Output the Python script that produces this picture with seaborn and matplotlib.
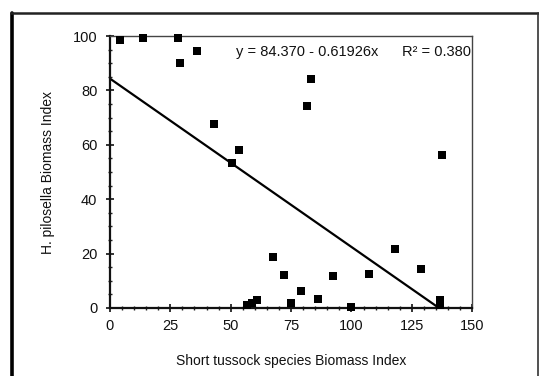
import matplotlib
matplotlib.use("Agg")
import matplotlib.pyplot as plt
from matplotlib.lines import Line2D
from matplotlib.ticker import MultipleLocator
import numpy as np
import pandas as pd
import seaborn as sns

# Biomass indices per plot
short_tussock = [4.2, 13.8, 28.0, 29.0, 35.9, 42.9, 50.5, 53.5, 56.9, 59.0, 60.8,
                 67.6, 72.0, 75.1, 79.1, 81.4, 83.3, 86.0, 92.5, 100.0, 107.3,
                 118.2, 128.9, 136.5, 136.5, 137.7]
pilosella = [98.5, 99.4, 99.4, 90.1, 94.5, 67.5, 53.4, 58.0, 1.0, 2.0, 2.8,
             18.7, 12.0, 2.0, 6.4, 74.3, 84.1, 3.4, 11.8, 0.5, 12.5,
             21.7, 14.3, 1.2, 3.0, 56.3]

# Fitted regression
intercept = 84.370
slope = -0.61926
r_squared = 0.380

x_ticks = [0, 25, 50, 75, 100, 125, 150]
y_ticks = [0, 20, 40, 60, 80, 100]

sns.set_style("ticks")
plt.rcParams["font.family"] = ["Liberation Sans", "DejaVu Sans"]

fig = plt.figure(figsize=(5.39, 3.76), dpi=100)
ax = fig.add_axes([0.204, 0.181, 0.672, 0.723])

pts = pd.DataFrame({"x": short_tussock, "y": pilosella})
sns.scatterplot(data=pts, x="x", y="y", marker="s", s=26, color="black",
                edgecolor="black", linewidth=0, ax=ax, zorder=3, clip_on=False)

x_end = -intercept / slope
fit = pd.DataFrame({"x": [0.0, x_end]})
fit["y"] = intercept + slope * fit["x"]
sns.lineplot(data=fit, x="x", y="y", color="black", linewidth=1.6, ax=ax)

ax.set_xlim(0, 150)
ax.set_ylim(0, 100)
ax.set_xticks(x_ticks)
ax.set_yticks(y_ticks)
ax.xaxis.set_minor_locator(MultipleLocator(5))
ax.yaxis.set_minor_locator(MultipleLocator(5))
ax.tick_params(which="major", direction="inout", length=6, width=1.2,
               labelsize=10.5, color="#111111", labelcolor="#111111")
ax.tick_params(axis="y", which="major", pad=6)
ax.tick_params(axis="x", which="major", pad=5)
ax.tick_params(which="minor", direction="inout", length=3, width=1.0, color="#222222")

for side in ["left", "bottom"]:
    ax.spines[side].set_linewidth(1.6)
    ax.spines[side].set_color("#111111")
for side in ["top", "right"]:
    ax.spines[side].set_visible(True)
    ax.spines[side].set_linewidth(1.0)
    ax.spines[side].set_color("#444444")
ax.spines["top"].set_linestyle((0, (3, 1)))

ax.set_xlabel("Short tussock species Biomass Index", fontsize=10,
              color="#111111", labelpad=15)
ax.set_ylabel("H. pilosella Biomass Index", fontsize=10,
              color="#111111", labelpad=13)

ax.text(0.74, 0.968, f"y = {intercept:.3f} - {abs(slope):.5f}x",
        transform=ax.transAxes, ha="right", va="top", fontsize=10.5,
        color="#111111")
ax.text(0.997, 0.968, f"R\u00b2 = {r_squared:.3f}", transform=ax.transAxes,
        ha="right", va="top", fontsize=10.5, color="#111111")

# Outer frame around the figure panel
W, H = 539, 376
fig.add_artist(Line2D([12 / W, 12 / W], [0, 1 - 13 / H], transform=fig.transFigure,
                      color="black", linewidth=2.6))
fig.add_artist(Line2D([11 / W, 1.0], [1 - 13 / H, 1 - 13 / H], transform=fig.transFigure,
                      color="#222222", linewidth=1.8))
fig.add_artist(Line2D([537.5 / W, 537.5 / W], [0, 1 - 13 / H], transform=fig.transFigure,
                      color="#333333", linewidth=1.2))

fig.savefig("out.png", dpi=100)
